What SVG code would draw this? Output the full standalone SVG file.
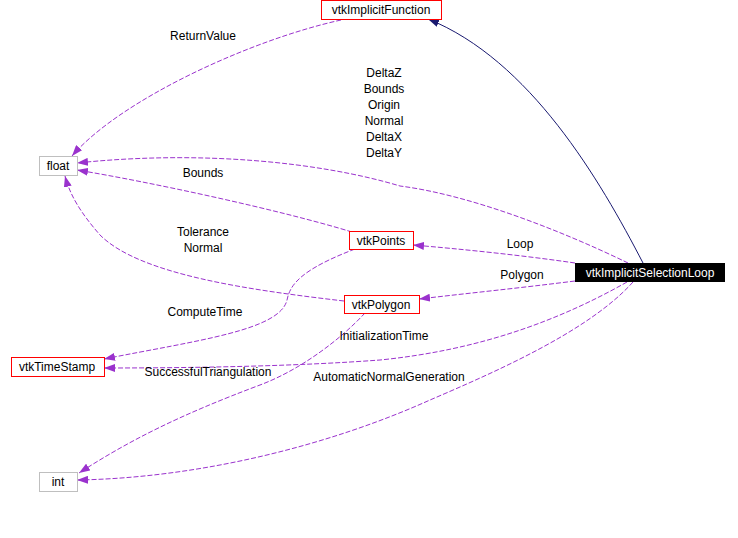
<svg xmlns="http://www.w3.org/2000/svg" width="738" height="538" viewBox="0 0 738 538">
<style>
text{font-family:"Liberation Sans",Arial,sans-serif;font-size:12px;text-anchor:middle;fill:#000}
.e{fill:none;stroke:#9a32cd;stroke-width:1;stroke-dasharray:5,2}
.n{fill:none;stroke:#191970;stroke-width:1}
.red{fill:#fff;stroke:#ff0000}
.gray{fill:#fff;stroke:#bfbfbf}
</style>
<defs>
<marker id="ap" markerWidth="12" markerHeight="8" refX="11" refY="4" orient="auto" markerUnits="userSpaceOnUse"><path d="M0,0 L11,4 L0,8 Z" fill="#9a32cd"/></marker>
<marker id="an" markerWidth="12" markerHeight="8" refX="11" refY="4" orient="auto" markerUnits="userSpaceOnUse"><path d="M0,0 L11,4 L0,8 Z" fill="#191970"/></marker>
</defs>
<rect width="738" height="538" fill="#fff"/>
<g id="connectors">
<path class="e" marker-end="url(#ap)" d="M341,20 C250,40 120,100 72,156"/>
<path class="e" marker-end="url(#ap)" d="M628,263 C560,230 470,195 400,186 C320,162 200,150 77,163"/>
<path class="e" marker-end="url(#ap)" d="M352,232 C280,210 150,182 77,170"/>
<path class="e" marker-end="url(#ap)" d="M344,301 C250,290 140,275 100,235 C80,212 70,195 65,176"/>
<path class="e" marker-end="url(#ap)" d="M575,263 C520,255 460,249 413,245"/>
<path class="e" marker-end="url(#ap)" d="M575,281 C520,288 470,293 419,299"/>
<path class="e" marker-end="url(#ap)" d="M355,249 C300,270 290,285 287,300 C280,330 200,340 104,359"/>
<path class="e" marker-end="url(#ap)" d="M627,282 C560,320 480,350 380,360 C300,366 200,368 104,368"/>
<path class="e" marker-end="url(#ap)" d="M365,313 C340,340 300,370 260,385 C180,415 130,440 79,473"/>
<path class="e" marker-end="url(#ap)" d="M633,282 C590,330 500,370 430,400 C330,445 200,478 77,480"/>
<path class="n" marker-end="url(#an)" d="M643,263 C600,180 530,60 428,19"/>
<text x="203" y="40">ReturnValue</text>
<text x="384" y="77">DeltaZ</text>
<text x="384" y="93">Bounds</text>
<text x="384" y="109">Origin</text>
<text x="384" y="125">Normal</text>
<text x="384" y="141">DeltaX</text>
<text x="384" y="157">DeltaY</text>
<text x="203" y="177">Bounds</text>
<text x="203" y="236">Tolerance</text>
<text x="203" y="252">Normal</text>
<text x="520" y="248">Loop</text>
<text x="522" y="279">Polygon</text>
<text x="205" y="316">ComputeTime</text>
<text x="384" y="340">InitializationTime</text>
<text x="208" y="376">SuccessfulTriangulation</text>
<text x="389" y="381">AutomaticNormalGeneration</text>
</g>
<g id="vtkImplicitFunction"><rect class="red" x="321.5" y="0.5" width="120" height="19"/><text x="381" y="14">vtkImplicitFunction</text></g>
<g id="float"><rect class="gray" x="39.5" y="156.5" width="38" height="19"/><text x="58" y="170">float</text></g>
<g id="vtkImplicitSelectionLoop"><rect x="575" y="263" width="150" height="19" fill="#000"/><text x="650" y="277" style="fill:#fff">vtkImplicitSelectionLoop</text></g>
<g id="vtkPoints"><rect class="red" x="349.5" y="231.5" width="64" height="18"/><text x="381" y="245">vtkPoints</text></g>
<g id="vtkPolygon"><rect class="red" x="344.5" y="295.5" width="75" height="18"/><text x="381" y="309">vtkPolygon</text></g>
<g id="vtkTimeStamp"><rect class="red" x="11.5" y="357.5" width="93" height="19"/><text x="57" y="371">vtkTimeStamp</text></g>
<g id="int"><rect class="gray" x="39.5" y="472.5" width="38" height="19"/><text x="58" y="486">int</text></g>
</svg>
